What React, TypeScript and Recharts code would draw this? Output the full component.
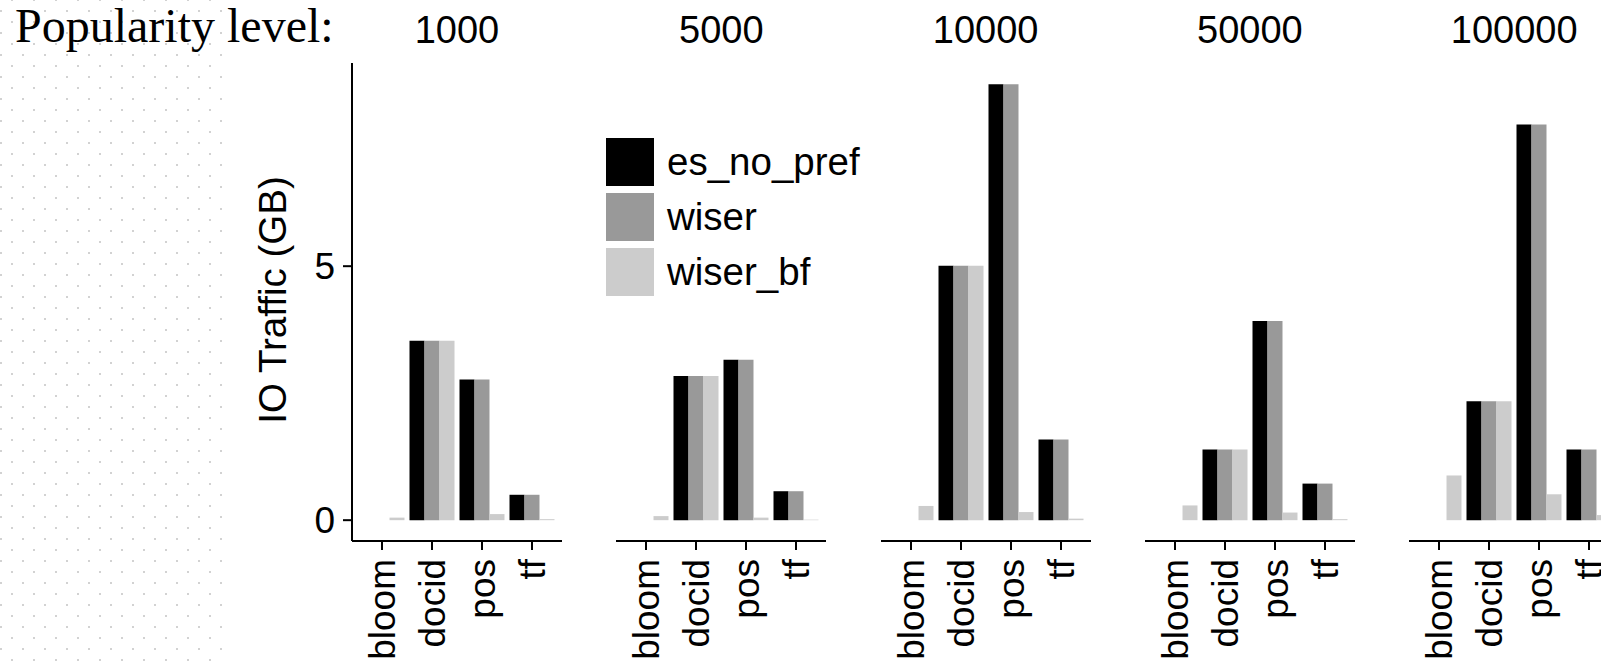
import React from "react";
import { BarChart, Bar, XAxis, YAxis, Legend } from "recharts";

// popularity levels (one facet each) and the index kinds on the x axis
const levels = ["1000", "5000", "10000", "50000", "100000"];
const kinds = ["bloom", "docid", "pos", "tf"];

// IO traffic in GB, one row per popularity level, columns follow `kinds`
const esNoPref = [
  [0, 3.53, 2.77, 0.5],
  [0, 2.84, 3.16, 0.57],
  [0, 5.01, 8.58, 1.59],
  [0, 1.39, 3.92, 0.72],
  [0, 2.34, 7.79, 1.39],
];
const wiser = [
  [0, 3.53, 2.77, 0.5],
  [0, 2.84, 3.16, 0.57],
  [0, 5.01, 8.58, 1.59],
  [0, 1.39, 3.92, 0.72],
  [0, 2.34, 7.79, 1.39],
];
const wiserBf = [
  [0.05, 3.53, 0.12, 0.02],
  [0.08, 2.84, 0.05, 0.01],
  [0.28, 5.01, 0.16, 0.03],
  [0.29, 1.39, 0.15, 0.02],
  [0.88, 2.34, 0.51, 0.1],
];

const yTicks = [0, 5];

const series = [
  { key: "es_no_pref", color: "#000000" },
  { key: "wiser", color: "#999999" },
  { key: "wiser_bf", color: "#cccccc" },
];

const SANS = '"Liberation Sans", Arial, Helvetica, sans-serif';
const SERIF = '"Liberation Serif", "Times New Roman", serif';

const PANEL_LEFT = 352;
const PANEL_PITCH = 264.3;
const PANEL_W = 210;
const PLOT_TOP = 63;
const PLOT_BOTTOM = 541;
const H = 665;
const Y_AXIS_W = 110;

const CatTick = (props: any) => {
  const { x, y, payload } = props;
  return (
    <text
      x={x}
      y={y}
      transform={`rotate(-90, ${x}, ${y})`}
      textAnchor="end"
      dy="0.36em"
      fontSize={37}
      fontFamily={SANS}
      fill="#000"
    >
      {payload.value}
    </text>
  );
};

const LegendBox = () => (
  <div style={{ fontFamily: SANS }}>
    {series.map((s) => (
      <div key={s.key} style={{ display: "flex", alignItems: "center", height: 55 }}>
        <div style={{ width: 48, height: 48, background: s.color }} />
        <span style={{ marginLeft: 13, fontSize: 38.5, color: "#000", lineHeight: "55px" }}>{s.key}</span>
      </div>
    ))}
  </div>
);

function Panel({ index }: { index: number }) {
  const first = index === 0;
  const data = kinds.map((k, j) => ({
    kind: k,
    es_no_pref: esNoPref[index][j],
    wiser: wiser[index][j],
    wiser_bf: wiserBf[index][j],
  }));
  const left = PANEL_LEFT + index * PANEL_PITCH - (first ? Y_AXIS_W : 0);
  const width = PANEL_W + (first ? Y_AXIS_W : 0);

  return (
    <div style={{ position: "absolute", left, top: 0 }}>
      <BarChart
        width={width}
        height={H}
        data={data}
        margin={{ top: PLOT_TOP, right: 0, bottom: 0, left: 0 }}
        barCategoryGap="5%"
        barGap={0}
      >
        <XAxis
          dataKey="kind"
          height={H - PLOT_BOTTOM}
          padding={{ left: 5, right: 5 }}
          interval={0}
          tickSize={9}
          tickMargin={9}
          tick={<CatTick />}
          axisLine={{ stroke: "#000", strokeWidth: 2 }}
          tickLine={{ stroke: "#000", strokeWidth: 2 }}
        />
        <YAxis
          hide={!first}
          width={Y_AXIS_W}
          domain={[-0.41, 9.0]}
          ticks={yTicks}
          allowDataOverflow
          tickSize={9}
          tickMargin={8}
          tick={{ fill: "#000", fontSize: 37, fontFamily: SANS }}
          axisLine={{ stroke: "#000", strokeWidth: 2 }}
          tickLine={{ stroke: "#000", strokeWidth: 2 }}
        />
        {first && (
          <Legend
            layout="vertical"
            align="center"
            verticalAlign="middle"
            content={<LegendBox />}
            wrapperStyle={{ position: "absolute", left: 606 - left, top: 134, width: 320, height: 165 }}
          />
        )}
        {series.map((s) => (
          <Bar key={s.key} dataKey={s.key} fill={s.color} isAnimationActive={false} />
        ))}
      </BarChart>
    </div>
  );
}

export default function App() {
  return (
    <div style={{ position: "fixed", left: 0, top: 0, width: 1601, height: 665, overflow: "hidden", background: "#fff" }}>
      <div
        style={{
          position: "absolute",
          left: 0,
          top: 0,
          width: 226,
          height: 665,
          backgroundImage:
            "radial-gradient(circle, #d2d2d2 1.1px, transparent 1.5px), radial-gradient(circle, #d2d2d2 1.1px, transparent 1.5px)",
          backgroundSize: "22px 22px, 22px 22px",
          backgroundPosition: "-10px 0px, 1px -11px",
        }}
      />
      {levels.map((lv, i) => (
        <Panel key={lv} index={i} />
      ))}
      <svg width={1601} height={665} style={{ position: "absolute", left: 0, top: 0, pointerEvents: "none" }}>
        <text x={15} y={42} fontFamily={SERIF} fontSize={48} fill="#000">
          Popularity level:
        </text>
        {levels.map((lv, i) => (
          <text
            key={lv}
            x={PANEL_LEFT + i * PANEL_PITCH + PANEL_W / 2}
            y={43}
            textAnchor="middle"
            fontFamily={SANS}
            fontSize={38}
            fill="#000"
          >
            {lv}
          </text>
        ))}
        <text
          transform="translate(272, 300) rotate(-90)"
          textAnchor="middle"
          dy="0.36em"
          fontFamily={SANS}
          fontSize={38.5}
          fill="#000"
        >
          IO Traffic (GB)
        </text>
      </svg>
    </div>
  );
}
